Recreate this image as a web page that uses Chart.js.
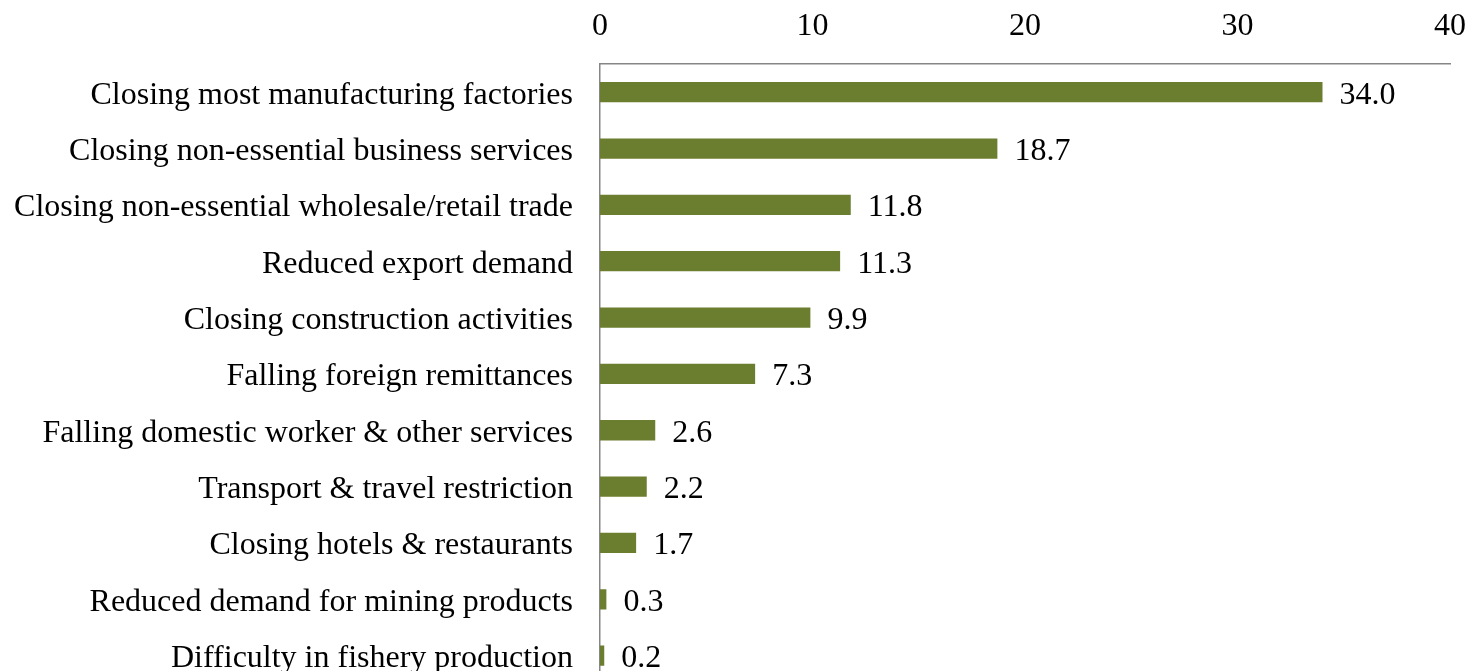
<!DOCTYPE html>
<html>
<head>
<meta charset="utf-8">
<script src="https://cdn.jsdelivr.net/npm/chart.js@4.4.0/dist/chart.umd.min.js"></script>
<style>
  html, body { margin: 0; padding: 0; background: #fff; overflow: hidden; }
  #wrap { width: 1484px; height: 730px; }
</style>
</head>
<body>
<div id="wrap"><canvas id="myChart"></canvas></div>
<script>
const categories = [
    'Closing most manufacturing factories',
    'Closing non-essential business services',
    'Closing non-essential wholesale/retail trade',
    'Reduced export demand',
    'Closing construction activities',
    'Falling foreign remittances',
    'Falling domestic worker & other services',
    'Transport & travel restriction',
    'Closing hotels & restaurants',
    'Reduced demand for mining products',
    'Difficulty in fishery production'
];
const shares = [34.0, 18.7, 11.8, 11.3, 9.9, 7.3, 2.6, 2.2, 1.7, 0.3, 0.2];
const tickValues = [0, 10, 20, 30, 40];

const FONT = "'Liberation Serif', 'Times New Roman', serif";
const AXIS_GREY = '#868686';

// values printed at the end of each bar
const valueLabels = {
    id: 'valueLabels',
    afterDatasetsDraw(chart)
    {
        const ctx  = chart.ctx;
        const meta = chart.getDatasetMeta(0);
        ctx.save();
        ctx.font = '32px ' + FONT;
        ctx.fillStyle = '#000';
        ctx.textAlign = 'left';
        ctx.textBaseline = 'middle';
        meta.data.forEach((bar, i) => {
            ctx.fillText(shares[i].toFixed(1), bar.x + 17, bar.y + 3);
        });
        ctx.restore();
    }
};

const ctx = document.getElementById('myChart').getContext('2d');
new Chart(ctx, {
    type: 'bar',
    data: {
        labels: categories,
        datasets: [{
            data: shares,
            backgroundColor: '#6b7d2f',
            borderWidth: 0,
            barPercentage: 0.36,
            categoryPercentage: 1
        }]
    },
    options: {
        indexAxis: 'y',
        responsive: true,
        maintainAspectRatio: false,
        animation: false,
        layout: { padding: { left: 0, right: 4, top: 0, bottom: 17 } },
        plugins: {
            legend: { display: false },
            tooltip: { enabled: false }
        },
        scales: {
            x: {
                position: 'top',
                min: 0,
                max: 40,
                afterBuildTicks: axis => { axis.ticks = tickValues.map(v => ({ value: v })); },
                afterFit: axis => { axis.height = 64; },
                grid: { display: false, drawTicks: false },
                border: { display: true, color: AXIS_GREY, width: 1.5 },
                ticks: {
                    color: '#000',
                    font: { family: FONT, size: 32 },
                    padding: 18,
                    maxRotation: 0
                }
            },
            y: {
                afterFit: axis => { axis.width = 600; },
                grid: { display: false, drawTicks: false },
                border: { display: true, color: AXIS_GREY, width: 1.5 },
                ticks: {
                    color: '#000',
                    font: { family: FONT, size: 32 },
                    padding: 27,
                    labelOffset: 3
                }
            }
        }
    },
    plugins: [valueLabels]
});
</script>
</body>
</html>
